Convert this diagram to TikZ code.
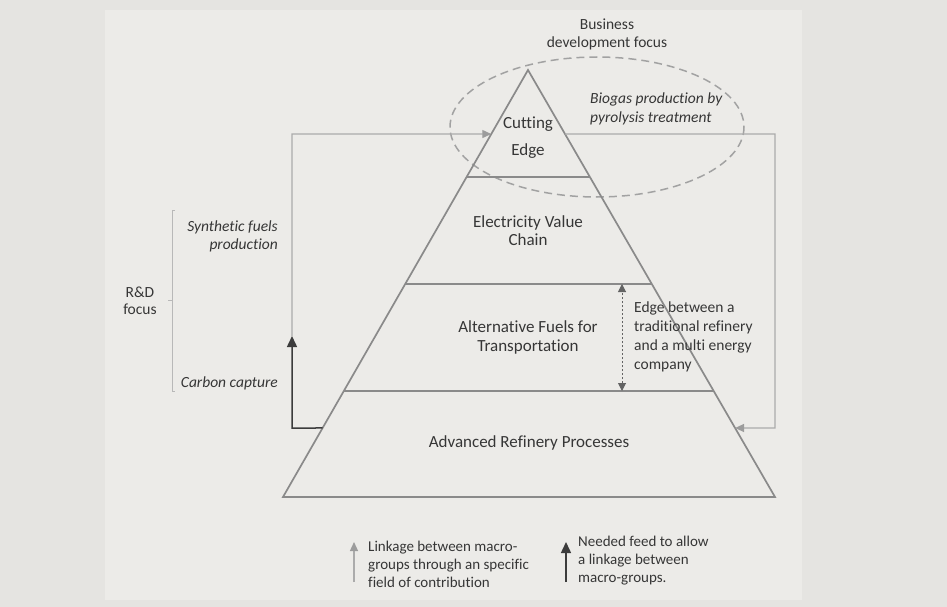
\documentclass[tikz,border=0pt]{standalone}
\usepackage{fontspec}
\setmainfont[Ligatures=NoCommon]{Carlito}
\usetikzlibrary{arrows.meta,calc}
\definecolor{outerbg}{HTML}{E5E4E1}
\definecolor{panelbg}{HTML}{ECEBE8}
\definecolor{tricol}{HTML}{8A8A8A}
\definecolor{txt}{HTML}{363636}
\definecolor{lgray}{HTML}{ABABAB}
\definecolor{lgrayhead}{HTML}{9C9C9C}
\definecolor{darkc}{HTML}{3C3C3C}
\definecolor{ellc}{HTML}{A2A2A2}
\definecolor{brk}{HTML}{B8B8B8}
\begin{document}
\begin{tikzpicture}[x=1pt,y=-1pt,
  triline/.style={draw=tricol, line width=1.7pt, line join=miter},
  lbl/.style={text=txt, align=center, inner sep=0pt},
  side/.style={text=txt, inner sep=0pt, font=\fontsize{15.5}{18}\selectfont\itshape},
  note/.style={text=txt, inner sep=0pt, align=left},
  linkarrow/.style={draw=lgray, line width=1.3pt, -{Triangle[length=9pt,width=8pt,color=lgrayhead]}},
  feedarrow/.style={draw=darkc, line width=1.5pt, -{Triangle[length=11pt,width=10pt]}},
  edgearrow/.style={draw=darkc!80, line width=1pt, dash pattern=on 2pt off 2pt,
     {Triangle[length=8pt,width=8pt]}-{Triangle[length=8pt,width=8pt]}},
  ellstyle/.style={draw=ellc, line width=1.5pt, dash pattern=on 8pt off 5pt},
  brkstyle/.style={draw=brk, line width=1pt}
]
\useasboundingbox (0,0) rectangle (947,607);
\fill[outerbg] (0,0) rectangle (947,607);
\fill[panelbg] (105,10) rectangle (802,600);

% pyramid
\coordinate (apex) at (528,70);
\coordinate (bl) at (283,497);
\coordinate (br) at (775,497);
\coordinate (l1) at ($(apex)!0.2506!(bl)$);
\coordinate (r1) at ($(apex)!0.2506!(br)$);
\coordinate (l2) at ($(apex)!0.5012!(bl)$);
\coordinate (r2) at ($(apex)!0.5012!(br)$);
\coordinate (l3) at ($(apex)!0.7518!(bl)$);
\coordinate (r3) at ($(apex)!0.7518!(br)$);
\coordinate (lt) at ($(apex)!0.1499!(bl)$);
\coordinate (rt) at ($(apex)!0.1499!(br)$);
\coordinate (lb) at ($(apex)!0.8384!(bl)$);
\coordinate (rb) at ($(apex)!0.8384!(br)$);

% ellipse
\draw[ellstyle] (597,127) ellipse [x radius=147, y radius=70];

\draw[triline] (apex) -- (bl) -- (br) -- cycle;
\draw[triline] (l1) -- (r1);
\draw[triline] (l2) -- (r2);
\draw[triline] (l3) -- (r3);

% level labels
\node[lbl, font=\fontsize{17}{27}\selectfont] (cut) at (528,137.5) {Cutting\\Edge};
\node[lbl, font=\fontsize{17}{18}\selectfont] (elec) at (528,231) {Electricity Value\\Chain};
\node[lbl, font=\fontsize{17}{19}\selectfont] (alt) at (528,337.5) {Alternative Fuels for\\Transportation};
\node[lbl, font=\fontsize{17}{19}\selectfont] (adv) at (529,443) {Advanced Refinery Processes};

% top labels
\node[lbl, font=\fontsize{15.5}{18}\selectfont] (bus) at (607,34) {Business\\development focus};
\node[side, anchor=west, align=left, font=\fontsize{15.5}{18.5}\selectfont\itshape] (bio) at (590,109) {Biogas production by\\pyrolysis treatment};

% edge between arrow
\coordinate (eu) at (622,284);
\coordinate (ed) at (622,391);
\draw[edgearrow] (ed) -- (eu);
\node[note, anchor=west, font=\fontsize{15.5}{19}\selectfont] (edgetxt) at (634,336.5) {Edge between a\\traditional refinery\\and a multi energy\\company};

% loops
\coordinate (lc) at (292,134);
\coordinate (dt) at (292,336);
\coordinate (dc) at (292,428);
\coordinate (rc1) at (775,134);
\coordinate (rc2) at (775,428);
\draw[linkarrow] (dt) -- (lc) -- (lt);
\draw[feedarrow] (lb) -- (dc) -- (dt);
\draw[linkarrow] (rt) -- (rc1) -- (rc2) -- (rb);

% R&D bracket
\coordinate (bt) at (172,210);
\coordinate (bb) at (172,391);
\coordinate (bm) at (172,300);
\draw[brkstyle] ($(bt)+(3,0)$) -- (bt) -- (bb) -- ($(bb)+(3,0)$);
\draw[brkstyle] (bm) -- ++(-4,0);
\node[lbl, font=\fontsize{15.5}{17}\selectfont] (rd) at (140,301) {R\&D\\focus};
\node[side, anchor=east, align=right] (syn) at (278,236) {Synthetic fuels\\production};
\node[side, anchor=east] (carb) at (278,383) {Carbon capture};

% legend
\coordinate (g1) at (354,582);
\coordinate (g2) at (354,542);
\coordinate (k1) at (566,582);
\coordinate (k2) at (566,542);
\draw[linkarrow] (g1) -- (g2);
\draw[feedarrow] (k1) -- (k2);
\node[note, anchor=west, font=\fontsize{15}{18}\selectfont] (leg1) at (368,564) {Linkage between macro-\\groups through an specific\\field of contribution};
\node[note, anchor=west, font=\fontsize{15}{18}\selectfont] (leg2) at (578,561) {Needed feed to allow\\a linkage between\\macro-groups.};
\end{tikzpicture}
\end{document}
